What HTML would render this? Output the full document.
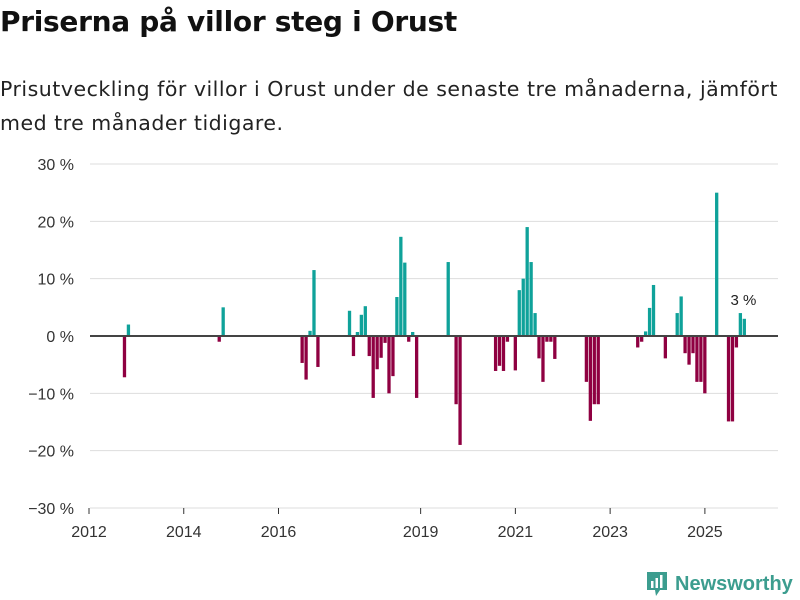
<!DOCTYPE html>
<html><head><meta charset="utf-8"><style>
body{margin:0;background:#fff;font-family:"Liberation Sans","DejaVu Sans",sans-serif;width:800px;height:600px;overflow:hidden;position:relative}
h1{position:absolute;left:0;top:5px;margin:0;font-family:"DejaVu Sans",sans-serif;font-size:28px;font-weight:bold;color:#111;letter-spacing:-0.3px}
p{position:absolute;left:0;top:72px;margin:0;font-family:"DejaVu Sans",sans-serif;font-size:20.5px;line-height:34px;color:#222;letter-spacing:0.5px;white-space:nowrap}
</style></head><body>
<h1>Priserna på villor steg i Orust</h1>
<p>Prisutveckling för villor i Orust under de senaste tre månaderna, jämfört<br>med tre månader tidigare.</p>
<svg id="chart" width="800" height="600" style="position:absolute;left:0;top:0"></svg>
<script>
const months=[9,10,33,34,54,55,56,57,58,66,67,68,69,70,71,72,73,74,75,76,77,78,79,80,81,82,83,91,93,94,103,104,105,106,108,109,110,111,112,113,114,115,116,117,118,126,127,128,129,139,140,141,142,143,146,149,150,151,152,153,154,155,156,159,162,163,164,165,166];
const values=[-7.2,2,-1,5,-4.7,-7.6,0.9,11.5,-5.4,4.4,-3.5,0.7,3.7,5.2,-3.5,-10.8,-5.8,-3.8,-1.2,-10,-7,6.8,17.3,12.8,-1,0.7,-10.8,12.9,-11.9,-19,-6.1,-5.2,-6.1,-1,-6,8,10,19,12.9,4,-3.9,-8,-1,-1,-4,-8,-14.8,-11.9,-11.9,-2,-1,0.8,4.9,8.9,-3.9,4,6.9,-3,-5,-3,-8,-8,-10,25,-14.9,-14.9,-2,4,3];
const yTicks=[30,20,10,0,-10,-20,-30];
const xTickYears=[2012,2014,2016,2019,2021,2023,2025];
const NS="http://www.w3.org/2000/svg";
const svg=document.getElementById('chart');
const y=v=>336-v*5.733;
const x=m=>89+m*3.948;
function mk(t,a){const e=document.createElementNS(NS,t);for(const k in a)e.setAttribute(k,a[k]);svg.appendChild(e);return e;}
yTicks.forEach(t=>{
  if(t!==0){const l=mk('line',{x1:90,x2:778,y1:y(t),y2:y(t),stroke:'#ddd','stroke-width':1});
  
  }
  const tx=mk('text',{x:74,y:y(t)+6,'text-anchor':'end','font-size':16,fill:'#333','font-family':'Liberation Sans, sans-serif'});
  tx.textContent=(t<0?'\u2212'+(-t):t)+' %';
  
  
});
xTickYears.forEach(yr=>{
  const px=x((yr-2012)*12);
  const l=mk('line',{x1:px,x2:px,y1:508,y2:514,stroke:'#333','stroke-width':1});
  
  
  const tx=mk('text',{x:px,y:537,'text-anchor':'middle','font-size':16,fill:'#333','font-family':'Liberation Sans, sans-serif'});
  tx.textContent=yr;
  
  
});
months.forEach((m,i)=>{
  const v=values[i];
  const r=mk('rect',{x:x(m)-1.7,width:3.3,y:Math.min(y(v),336),height:Math.abs(y(v)-336),fill:v>=0?'#0fa29a':'#8f0041'});
  
  
});
const z=mk('line',{x1:90,x2:778,y1:336,y2:336,stroke:'#444','stroke-width':2});


const li=months.length-1;
const lab=mk('text',{x:x(months[li])-1,y:y(values[li])-14,'text-anchor':'middle','font-size':15,fill:'#222','font-family':'Liberation Sans, sans-serif'});
lab.textContent=values[li]+' %';


</script>
<div style="position:absolute;left:645px;top:570px;display:flex;align-items:center;gap:6px">
<svg width="24" height="28"><path d="M2 2h20v18h-7l-4 6-1-6H2z" fill="#3c9d8f"/><rect x="6" y="11" width="2.5" height="7" fill="#fff"/><rect x="10.5" y="8" width="2.5" height="10" fill="#fff"/><rect x="15" y="5" width="2.5" height="13" fill="#fff"/></svg>
<span style="font-size:20px;font-weight:bold;color:#3c9d8f">Newsworthy</span></div>
</body></html>
